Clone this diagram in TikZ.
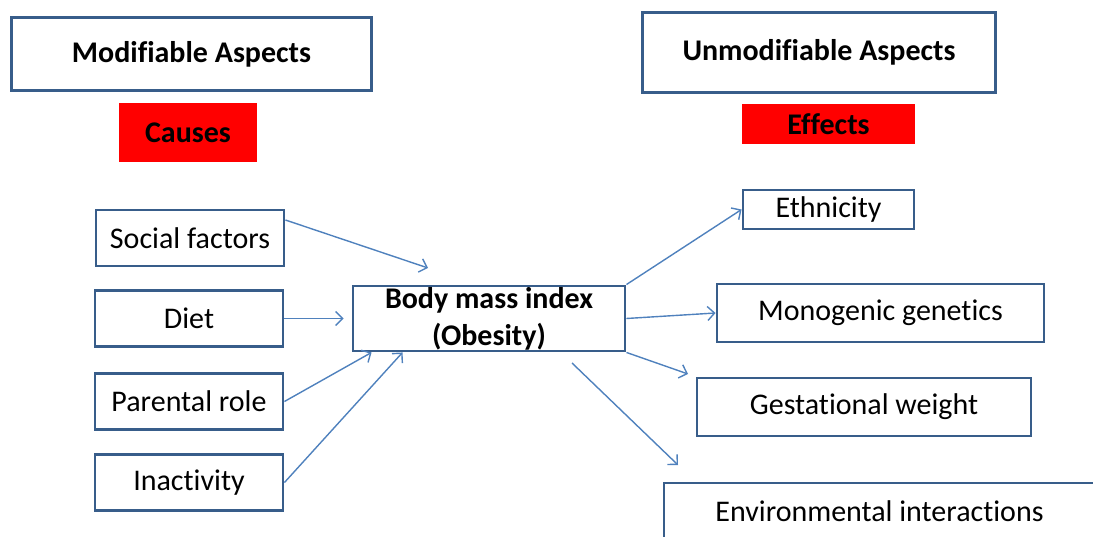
\documentclass[tikz,border=0pt]{standalone}
\usepackage{fontspec}
\setmainfont{Carlito}[Ligatures=NoCommon]
\usetikzlibrary{arrows.meta}

\definecolor{boxblue}{RGB}{56,93,138}
\definecolor{linkblue}{RGB}{79,129,189}

\tikzset{
	box/.style={draw=boxblue, line width=2.9pt, inner sep=0pt, align=center, font=\fontsize{30}{37}\selectfont},
	head/.style={box, font=\fontsize{30}{37}\selectfont\bfseries},
	tag/.style={fill=red, inner sep=0pt, font=\fontsize{30}{37}\selectfont\bfseries},
	link/.style={draw=linkblue, line width=1.4pt, -{Straight Barb[length=7pt,width=14pt]}},
}

\begin{document}
\begin{tikzpicture}[x=1pt, y=1pt]
		%%%%% START %%%%%
		
		\clip (0, 0) rectangle (1093, 536);
		
		% headings
		\node[head, minimum width=360pt, minimum height=73pt] (modif) at (191.5, 482) {Modifiable Aspects};
		\node[tag, minimum width=138pt, minimum height=59pt] (causes) at (188, 403.5) {Causes};
		\node[head, minimum width=353pt, minimum height=80pt] (unmodif) at (819, 483.5) {Unmodifiable Aspects};
		\node[tag, minimum width=173pt, minimum height=40pt] (effects) at (828.5, 412) {Effects};
		
		% causes
		\node[box, minimum width=188pt, minimum height=56pt] (social) at (190, 298) {Social factors};
		\node[box, minimum width=188pt, minimum height=56pt] (diet) at (189, 217.5) {Diet};
		\node[box, minimum width=188pt, minimum height=56pt] (parental) at (189, 134.5) {Parental role};
		\node[box, minimum width=188pt, minimum height=56pt] (inactivity) at (189, 53.5) {Inactivity};
		
		\node[head, minimum width=272pt, minimum height=65pt] (bmi) at (489, 217.5) {Body mass index\\(Obesity)};
		
		% effects
		\node[box, minimum width=171pt, minimum height=39pt] (ethnicity) at (828.5, 326.5) {Ethnicity};
		\node[box, minimum width=327pt, minimum height=58pt] (mono) at (880.5, 223) {Monogenic genetics};
		\node[box, minimum width=334pt, minimum height=58pt] (gest) at (864, 129) {Gestational weight};
		\node[box, minimum width=431pt, minimum height=56pt] (env) at (879.5, 25) {Environmental interactions};
		
		% free arrow ends
		\coordinate (socialtip) at (428, 268);
		\coordinate (gesttip) at (688, 162);
		\coordinate (envfrom) at (572, 173);
		\coordinate (envtip) at (678, 71);
		
		\draw[link] ([yshift=18pt]social.east) -- (socialtip);
		\draw[link, shorten >=8pt] (diet.east) -- (bmi.west);
		\draw[link] (parental.east) -- ([xshift=20pt]bmi.south west);
		\draw[link] (inactivity.east) -- ([xshift=51pt]bmi.south west);
		
		\draw[link] (bmi.north east) -- (ethnicity.west);
		\draw[link] (bmi.east) -- (mono.west);
		\draw[link] (bmi.south east) -- (gesttip);
		\draw[link] (envfrom) -- (envtip);
		
		%%%%% END %%%%%
\end{tikzpicture}
\end{document}
